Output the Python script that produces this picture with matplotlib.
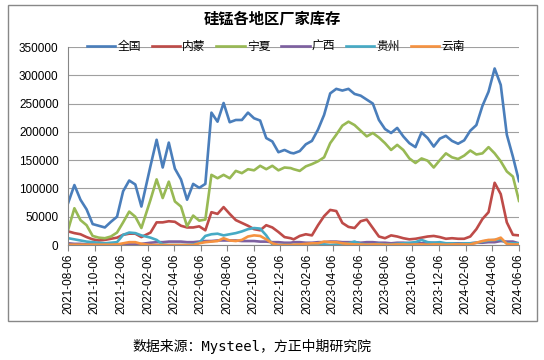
import matplotlib
matplotlib.use('Agg')
import matplotlib.pyplot as plt
import pandas as pd
from matplotlib.patches import Rectangle

plt.rcParams['font.family'] = ['Liberation Sans', 'Noto Sans CJK SC']

# 双周数据，春节前后间隔不规则
dates = (pd.date_range('2021-08-06', periods=13, freq='14D')
         .append(pd.date_range('2022-02-11', periods=24, freq='14D'))
         .append(pd.date_range('2023-01-06', periods=38, freq='14D')))

quanguo = [75000, 106000, 80000, 63000, 37000, 34000, 31000, 41000, 50000, 95000, 114000, 107000, 68000,
           140000, 186000, 137000, 181000, 135000, 116000, 80000, 108000, 101000, 108000,
           234000, 218000, 251000, 217000, 221000, 221000, 234000, 224000, 220000, 189000, 183000, 164000, 168000, 163000,
           162000, 166000, 178000, 184000, 204000, 230000, 268000, 276000, 273000, 276000, 267000, 264000, 257000,
           250000, 221000, 205000, 198000, 207000, 192000, 180000, 173000, 199000, 189000, 174000, 188000, 193000,
           184000, 179000, 185000, 202000, 212000, 246000, 271000, 312000, 283000, 195000, 156000, 113000]
neimeng = [24000, 21000, 19000, 14000, 10000, 8000, 9000, 11000, 13000, 18000, 20000, 20000, 14000,
           22000, 40000, 40000, 42000, 41000, 34000, 31000, 31000, 33000, 26000,
           58000, 55000, 67000, 55000, 44000, 39000, 34000, 28000, 26000, 35000, 31000, 23000, 14000, 12000,
           10000, 16000, 19000, 17000, 35000, 51000, 62000, 60000, 39000, 32000, 30000, 42000, 45000,
           30000, 15000, 12000, 17000, 15000, 12000, 10000, 11000, 13000, 15000, 16000, 14000, 11000,
           12000, 11000, 11000, 15000, 28000, 46000, 58000, 110000, 90000, 40000, 18000, 17000]
ningxia = [28000, 65000, 44000, 35000, 16000, 13000, 12000, 15000, 22000, 40000, 59000, 50000, 30000,
           80000, 116000, 83000, 112000, 77000, 68000, 33000, 52000, 43000, 45000,
           124000, 118000, 124000, 118000, 131000, 127000, 134000, 132000, 140000, 134000, 140000, 132000, 137000, 136000,
           134000, 131000, 139000, 143000, 148000, 155000, 180000, 195000, 211000, 218000, 212000, 202000, 192000,
           198000, 190000, 180000, 168000, 177000, 168000, 153000, 145000, 153000, 149000, 137000, 150000, 162000,
           155000, 152000, 158000, 167000, 160000, 162000, 173000, 162000, 148000, 130000, 121000, 78000]
guangxi = [3000, 2000, 2000, 1000, 1000, 500, 500, 1000, 1000, 1000, 1000, 1000, 2000,
           4000, 5000, 5000, 6000, 6000, 6000, 5000, 5000, 6000, 7000,
           7000, 8000, 8000, 8000, 8000, 7000, 7000, 7000, 6000, 6000, 5000, 5000, 4000, 4000,
           5000, 5000, 4000, 4000, 5000, 5000, 6000, 6000, 5000, 5000, 5000, 4000, 5000,
           5000, 4000, 4000, 3000, 4000, 4000, 3000, 3000, 3000, 3000, 4000, 3000, 3000,
           3000, 3000, 3000, 3000, 4000, 4000, 5000, 5000, 7000, 6000, 6000, 3000]
guizhou = [12000, 10000, 8000, 6000, 5000, 4000, 3000, 4000, 5000, 18000, 22000, 21000, 17000,
           13000, 9000, 1000, 0, 0, 0, 0, 1000, 4000, 16000,
           19000, 20000, 17000, 19000, 21000, 24000, 28000, 30000, 29000, 17000, 1000, 0, 0, 0,
           0, 1000, 1000, 0, 0, 1000, 0, 1000, 2000, 3000, 6000, 2000, 1000,
           1000, 2000, 1000, 1000, 2000, 3000, 4000, 5000, 9000, 5000, 4000, 5000, 3000,
           3000, 2000, 3000, 3000, 4000, 6000, 8000, 9000, 10000, 3000, 3000, 3000]
yunnan = [500, 500, 500, 500, 500, 500, 500, 500, 1000, 3000, 5000, 5000, 2000,
          0, 0, 0, 0, 0, 0, 0, 0, 3000, 5000,
          6000, 7000, 12000, 8000, 7000, 9000, 15000, 17000, 16000, 10000, 3000, 0, 0, 0,
          500, 1000, 2000, 3000, 3000, 6000, 5000, 5000, 3000, 2000, 1000, 1000, 500,
          1000, 1000, 500, 500, 1000, 1000, 500, 1000, 1000, 500, 1000, 1000, 500,
          1000, 1000, 1000, 1000, 4000, 7000, 9000, 9000, 13000, 2000, 1000, 1000]

names = ['全国', '内蒙', '宁夏', '广西', '贵州', '云南']
series = [quanguo, neimeng, ningxia, guangxi, guizhou, yunnan]
colors = ['#4A7EBB', '#BE4B48', '#98B954', '#7D60A0', '#46AAC5', '#F69240']

W, H = 544, 360
fig = plt.figure(figsize=(W / 100, H / 100), dpi=100)
ax = fig.add_axes([68.3 / W, 1 - 245 / H, (519 - 68.3) / W, (245 - 47) / H])

for name, vals, c in zip(names, series, colors):
    ax.plot(dates, vals, color=c, lw=1.9, label=name, solid_joinstyle='round')

ax.set_ylim(0, 350000)
ax.set_yticks(range(0, 350001, 50000))
ax.set_xlim(dates[0], dates[-1])
ticks = pd.date_range('2021-08-06', '2024-06-06', freq=pd.DateOffset(months=2))
ax.set_xticks(ticks)
ax.set_xticklabels([d.strftime('%Y-%m-%d') for d in ticks], rotation=90)
ax.grid(axis='y', color='#a0a0a0', lw=0.8)
ax.set_axisbelow(True)
for s in ['top', 'right']:
    ax.spines[s].set_visible(False)
for s in ['left', 'bottom']:
    ax.spines[s].set_color('#868686')
ax.tick_params(axis='x', length=4, color='#868686', labelsize=8.5, pad=2)
ax.tick_params(axis='y', length=0, labelsize=8.5, pad=7)

# 外框
fig.add_artist(Rectangle((8 / W, 1 - 321 / H), 529 / W, 316 / H, transform=fig.transFigure,
                         fill=False, ec='#888888', lw=1))

fig.text(272 / W, 1 - 19 / H, '硅锰各地区厂家库存', ha='center', va='center',
         fontsize=11, fontweight='bold')
fig.legend(loc='center', bbox_to_anchor=(276 / W, 1 - 47 / H), ncol=6, frameon=False,
           fontsize=8.5, handlelength=2.4, handletextpad=0.2, columnspacing=0.9)
fig.text(252 / W, 1 - 346 / H, '数据来源：Mysteel，方正中期研究院', ha='center', va='center',
         fontsize=10, family=['DejaVu Sans Mono', 'Noto Sans CJK SC'])

fig.savefig('out.png', dpi=100)
